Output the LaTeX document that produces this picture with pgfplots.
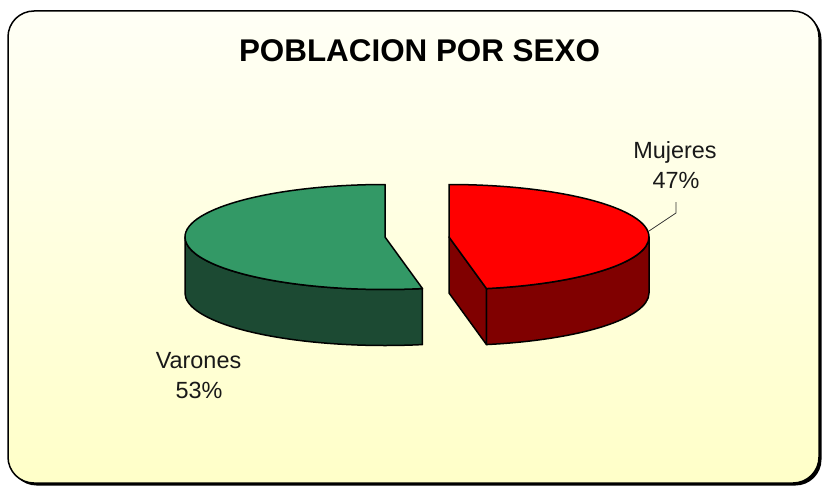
\documentclass[border=0pt]{standalone}
\usepackage{pgfplots}
\pgfplotsset{compat=1.18}
\usepackage{pgfplotstable}
\usepackage{fontspec}
\setmainfont{Liberation Sans}
\definecolor{topgreen}{HTML}{339966}
\definecolor{sidegreen}{HTML}{1C4A33}
\definecolor{topred}{HTML}{FF0000}
\definecolor{sidered}{HTML}{800000}
\definecolor{bgtop}{RGB}{255,255,246}
\definecolor{bgbot}{RGB}{255,255,200}
\pgfplotstableread{
label value
Varones 53
Mujeres 47
}\piedata
\pgfplotstablegetelem{0}{value}\of\piedata \edef\vV{\pgfplotsretval}
\pgfplotstablegetelem{1}{value}\of\piedata \edef\vM{\pgfplotsretval}
\pgfmathsetmacro\gE{90+3.6*\vV}
\pgfmathsetmacro\rE{90-3.6*\vM}
\pgfmathsetmacro\rXe{449+200*cos(\rE)}
\pgfmathsetmacro\rYe{237-52.5*sin(\rE)}
\begin{document}
\begin{tikzpicture}
\begin{axis}[hide axis, scale only axis, width=822bp, height=487bp,
  xmin=0, xmax=822, ymin=0, ymax=487, y dir=reverse, clip=false,
  at={(0,0)}, anchor=south west]
\path (axis cs:0,0) rectangle (axis cs:822,487);
% frame
\fill[black, rounded corners=26bp] (axis cs:10.5,13.5) rectangle (axis cs:821.5,485.5);
\path[top color=bgtop, bottom color=bgbot, draw=black, line width=1.5bp, rounded corners=26bp]
  (axis cs:8,11) rectangle (axis cs:819,483);
\begin{scope}[line width=1.5bp, line join=round, draw=black]
% green slice
\filldraw[fill=sidegreen] (axis cs:185,237) arc[start angle=180,end angle=\gE,x radius=200bp,y radius=52.5bp]
  -- ++(0,-56bp) arc[start angle=\gE,end angle=180,x radius=200bp,y radius=52.5bp] -- cycle;
\filldraw[fill=topgreen] (axis cs:385,237) -- (axis cs:385,184.5)
  arc[start angle=90,end angle=\gE,x radius=200bp,y radius=52.5bp] -- cycle;
% red slice
\filldraw[fill=sidered] (axis cs:649,237) arc[start angle=0,end angle=\rE,x radius=200bp,y radius=52.5bp]
  -- ++(0,-56bp) arc[start angle=\rE,end angle=0,x radius=200bp,y radius=52.5bp] -- cycle;
\filldraw[fill=sidered] (axis cs:449,237) -- (axis cs:\rXe,\rYe) -- ++(0,-56bp)
  -- ([yshift=-56bp]axis cs:449,237) -- cycle;
\filldraw[fill=topred] (axis cs:449,237) -- (axis cs:449,184.5)
  arc[start angle=90,end angle=\rE,x radius=200bp,y radius=52.5bp] -- cycle;
\end{scope}
% leader
\draw[line width=0.8bp, black!80] (axis cs:676,202) -- (axis cs:676,213) -- (axis cs:649,231);
% texts
\node[anchor=base, inner sep=0pt, font=\fontsize{31.5}{36}\selectfont\bfseries] at (axis cs:419.5,62) {POBLACION POR SEXO};
\node[anchor=base, inner sep=0pt, font=\fontsize{23.5}{28}\selectfont, text=black!90] at (axis cs:675,158) {Mujeres};
\node[anchor=base, inner sep=0pt, font=\fontsize{23.5}{28}\selectfont, text=black!90] at (axis cs:676,188) {47\%};
\node[anchor=base, inner sep=0pt, font=\fontsize{23.5}{28}\selectfont, text=black!90] at (axis cs:198.5,368) {Varones};
\node[anchor=base, inner sep=0pt, font=\fontsize{23.5}{28}\selectfont, text=black!90] at (axis cs:199,398) {53\%};
\end{axis}
\end{tikzpicture}
\end{document}
